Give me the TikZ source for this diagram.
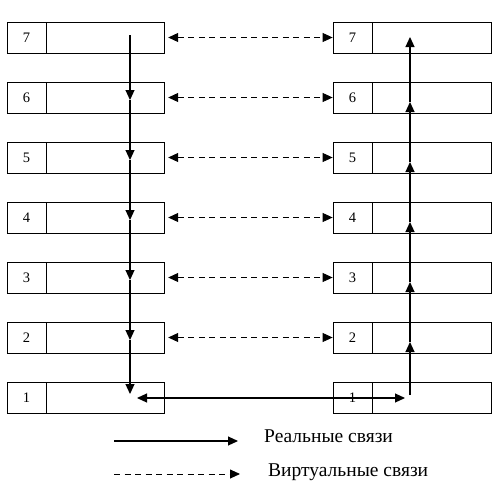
\documentclass[tikz,border=0pt]{standalone}
\usepackage{fontspec}
\setmainfont{Liberation Serif}
\usetikzlibrary{arrows.meta, positioning}

\begin{document}
\begin{tikzpicture}[
  x=1pt, y=-1pt,
  >={Triangle[length=10pt, width=9pt]},
  numcell/.style={rectangle, draw, line width=0.8pt, minimum width=39pt, minimum height=31pt, inner sep=0pt, font=\fontsize{14.5}{16}\selectfont},
  bodycell/.style={rectangle, draw, line width=0.8pt, minimum height=31pt, inner sep=0pt, anchor=west},
  arrow/.style={->, line width=1.1pt},
  virt/.style={<->, line width=0.9pt, dash pattern=on 6pt off 4.5pt},
  legend/.style={anchor=base west, inner sep=0pt, font=\fontsize{19.5}{21}\selectfont}
]
\useasboundingbox (0,0) rectangle (504,493);

% layers of both stacks
\foreach \i in {1,...,7} {
  \node[numcell] (lnum\i) at (26.5,{37.5+(7-\i)*60}) {\i};
  \node[bodycell, minimum width=118pt] (lbody\i) at (lnum\i.east) {};
  \node[numcell] (rnum\i) at (352.5,{37.5+(7-\i)*60}) {\i};
  \node[bodycell, minimum width=119pt] (rbody\i) at (rnum\i.east) {};
  \coordinate (ld\i) at (130,{22+(7-\i)*60+18});
  \coordinate (ru\i) at (410,{22+(7-\i)*60+20});
}
\coordinate (ld7) at (130,35);
\coordinate (ld1) at (130,394);
\coordinate (ru7) at (410,37);
\coordinate (ru1) at (410,395);

% virtual links
\foreach \i in {2,...,7}
  \draw[virt, shorten <=3pt] (lbody\i.east) -- (rnum\i.west);

% real links
\foreach \i [evaluate=\i as \j using int(\i-1)] in {7,...,2}
  \draw[arrow] (ld\i) -- (ld\j);
\foreach \i [evaluate=\i as \j using int(\i+1)] in {1,...,6}
  \draw[arrow] (ru\i) -- (ru\j);
\coordinate (bl) at (137,398);
\coordinate (br) at (405,398);
\draw[arrow, <->] (bl) -- (br);

% legend
\coordinate (ra) at (114,441);
\coordinate (rb) at (238,441);
\draw[arrow] (ra) -- (rb);
\node[legend] (reallab) at (264,442) {Реальные связи};
\coordinate (va) at (114,474);
\coordinate (vb) at (240,474);
\draw[arrow, line width=0.9pt, dash pattern=on 6pt off 4.5pt] (va) -- (vb);
\node[legend] (virtlab) at (268,476) {Виртуальные связи};

\end{tikzpicture}
\end{document}
